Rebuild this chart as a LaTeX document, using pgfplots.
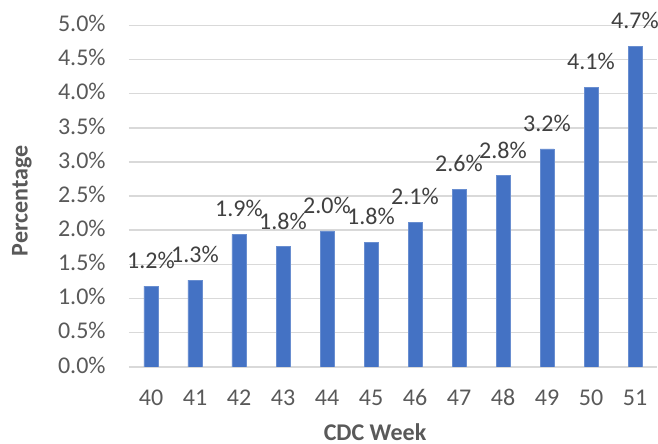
\documentclass[border=0pt]{standalone}
\usepackage{pgfplots}
\pgfplotsset{compat=1.18}
\usepackage{fontspec}
\setmainfont{Carlito}
\definecolor{barblue}{HTML}{4472C4}
\definecolor{txtgray}{HTML}{595959}
\definecolor{lblgray}{HTML}{404040}
\definecolor{gridgray}{HTML}{D9D9D9}
\pgfplotstableread{
x y label
0 1.18 1.2\%
1 1.27 1.3\%
2 1.94 1.9\%
3 1.76 1.8\%
4 1.99 2.0\%
5 1.82 1.8\%
6 2.12 2.1\%
7 2.60 2.6\%
8 2.80 2.8\%
9 3.19 3.2\%
10 4.09 4.1\%
11 4.69 4.7\%
}\datatable
\begin{document}
\begin{tikzpicture}
\begin{axis}[
  scale only axis, width=264pt, height=170.75pt,
  xmin=-0.5, xmax=11.5, ymin=0, ymax=5,
  xtick={0,1,2,3,4,5,6,7,8,9,10,11},
  xticklabels={40,41,42,43,44,45,46,47,48,49,50,51},
  ytick={0,0.5,1,1.5,2,2.5,3,3.5,4,4.5,5},
  yticklabels={0.0\%,0.5\%,1.0\%,1.5\%,2.0\%,2.5\%,3.0\%,3.5\%,4.0\%,4.5\%,5.0\%},
  ymajorgrids, grid style={gridgray, line width=0.75pt},
  axis line style={draw=none},
  major tick length=0pt,
  tick style={draw=none},
  tick label style={font=\fontsize{12}{14}\selectfont, text=txtgray},
  yticklabel style={anchor=east, inner sep=0pt, xshift=-11.5pt, text height=0.63em, text depth=0pt},
  xticklabel style={anchor=base, inner sep=0pt, yshift=-19.35pt},
  xlabel={CDC Week}, ylabel={Percentage},
  xlabel style={at={(axis description cs:0.466,-0.2165)}, anchor=base, font=\bfseries\fontsize{12}{14}\selectfont, text=txtgray, inner sep=0pt},
  ylabel style={at={(axis description cs:-0.2027,0.486)}, anchor=center, font=\bfseries\fontsize{12}{14}\selectfont, text=txtgray, inner sep=0pt},
  ybar, bar width=7pt,
]
\addplot[ybar, fill=barblue, draw=barblue!80!white, line width=0.3pt,
  nodes near coords, point meta=explicit symbolic,
  every node near coord/.append style={anchor=base, yshift=8.75pt, inner sep=0pt, font=\fontsize{12}{14}\selectfont, text=lblgray}]
  table[x=x, y=y, meta=label] {\datatable};
\end{axis}
\pgfresetboundingbox
\path[use as bounding box] ([shift={(-64.5pt,-38.6pt)}]current axis.south west) rectangle ([shift={(0.5pt,12.65pt)}]current axis.north east);
\end{tikzpicture}
\end{document}
